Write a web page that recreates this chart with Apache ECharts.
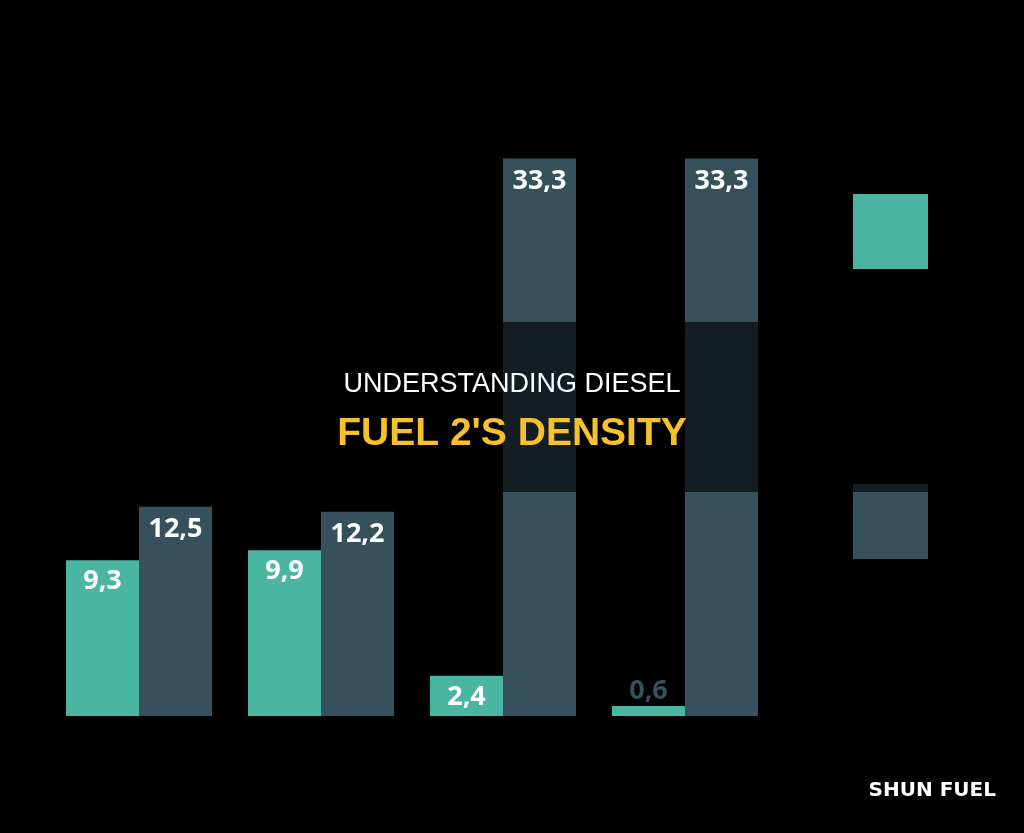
<!DOCTYPE html>
<html>
<head>
<meta charset="utf-8">
<script src="https://cdn.jsdelivr.net/npm/echarts@6/dist/echarts.min.js"></script>
<style>
  html, body { margin: 0; padding: 0; background: #000; }
  #main { width: 1024px; height: 833px; }
</style>
</head>
<body>
<div id="main"></div>
<script>
// data
const categories = ['1', '2', '3', '4']
const seriesA = [9.3, 9.9, 2.4, 0.6]
const seriesB = [12.5, 12.2, 33.3, 33.3]

const teal = '#4ab5a0'
const slate = '#36505c'

const chart = echarts.init(document.getElementById('main'))

// the smallest teal bar carries its label above, in slate
const tealData = seriesA.map((v, i) => {
  if (i === 3) {
    return { value: v, label: { position: 'top', color: slate, distance: 1 } }
  }
  return v
})

const fmt = p => String(p.value).replace('.', ',')

const option = {
  backgroundColor: '#000',
  animation: false,
  grid: { left: 48, right: 248, top: 130, bottom: 117 },
  xAxis: {
    type: 'category',
    data: categories,
    axisLine: { show: false },
    axisTick: { show: false },
    axisLabel: { show: false }
  },
  yAxis: {
    type: 'value',
    min: 0,
    max: 35,
    show: false,
    splitLine: { show: false }
  },
  legend: {
    orient: 'vertical',
    left: 848,
    top: 189,
    icon: 'rect',
    itemWidth: 75,
    itemHeight: 75,
    itemGap: 215,
    formatter: () => '',
    textStyle: { color: '#000' }
  },
  series: [
    {
      name: 'A',
      type: 'bar',
      data: tealData,
      barWidth: 73,
      barGap: '0%',
      itemStyle: { color: teal },
      label: {
        show: true,
        position: 'insideTop',
        distance: 8,
        formatter: fmt,
        color: '#fff',
        fontFamily: 'Open Sans',
        fontWeight: 'bold',
        fontSize: 27
      }
    },
    {
      name: 'B',
      type: 'bar',
      data: seriesB,
      barWidth: 73,
      itemStyle: { color: slate },
      label: {
        show: true,
        position: 'insideTop',
        distance: 9,
        formatter: fmt,
        color: '#fff',
        fontFamily: 'Open Sans',
        fontWeight: 'bold',
        fontSize: 27
      }
    }
  ],
  graphic: [
    {
      type: 'rect',
      z: 100,
      shape: { x: 0, y: 322, width: 1024, height: 170 },
      style: { fill: 'rgba(0,0,0,0.63)' }
    },
    {
      type: 'text',
      z: 101,
      x: 512,
      y: 385,
      style: {
        text: 'UNDERSTANDING DIESEL',
        fill: '#fff',
        font: '27px "Liberation Sans", Arial, sans-serif',
        textAlign: 'center',
        textVerticalAlign: 'middle'
      }
    },
    {
      type: 'text',
      z: 101,
      x: 512,
      y: 434,
      style: {
        text: "FUEL 2'S DENSITY",
        fill: '#f5c22b',
        font: 'bold 39px "Liberation Sans", Arial, sans-serif',
        textAlign: 'center',
        textVerticalAlign: 'middle'
      }
    },
    {
      type: 'text',
      z: 101,
      x: 996,
      y: 791,
      style: {
        text: 'SHUN FUEL',
        fill: '#fff',
        font: 'bold 20px "DejaVu Sans", sans-serif',
        textAlign: 'right',
        textVerticalAlign: 'middle'
      }
    }
  ]
}

chart.setOption(option)
</script>
</body>
</html>
